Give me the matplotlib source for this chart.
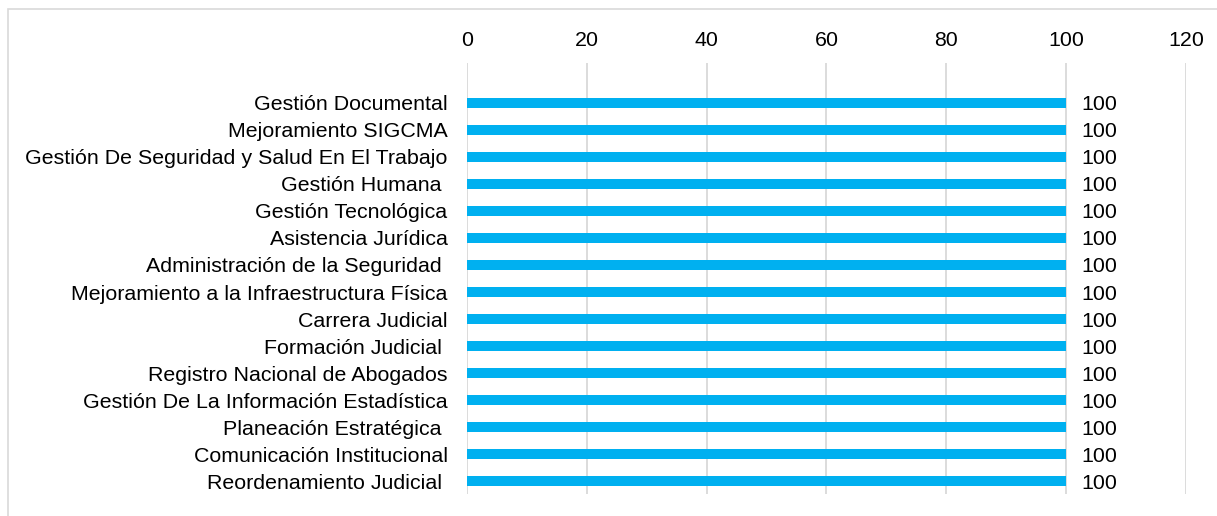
import matplotlib
matplotlib.use("Agg")
import matplotlib.pyplot as plt
from matplotlib.patches import Rectangle

procesos = ["Gestión Documental", "Mejoramiento SIGCMA",
            "Gestión De Seguridad y Salud En El Trabajo", "Gestión Humana ",
            "Gestión Tecnológica", "Asistencia Jurídica",
            "Administración de la Seguridad ",
            "Mejoramiento a la Infraestructura Física", "Carrera Judicial",
            "Formación Judicial ", "Registro Nacional de Abogados",
            "Gestión De La Información Estadística", "Planeación Estratégica ",
            "Comunicación Institucional", "Reordenamiento Judicial "]
valores = [100] * 15
ticks = [0, 20, 40, 60, 80, 100, 120]

plt.rcParams['font.family'] = ['Liberation Sans', 'DejaVu Sans']
fs = 15.4

W, H = 1217, 516
fig = plt.figure(figsize=(W / 100, H / 100), dpi=100)
ax = fig.add_axes([467 / W, 1 - 494 / H, (1186 - 467) / W, (494 - 63) / H])

pos = list(range(len(procesos)))
ax.barh(pos, valores, height=0.4, color="#00B0F0", zorder=3)
for p, v in zip(pos, valores):
    ax.text(v + 2.6, p, str(v), va="center_baseline", ha="left", fontsize=fs,
            color="#000000")

ax.set_ylim(14.48, -1.48)
ax.set_xlim(0, 120)
ax.set_xticks(ticks)
ax.xaxis.tick_top()
ax.tick_params(axis="x", length=0, pad=9.5, labelsize=fs)
ax.set_yticks(pos)
ax.set_yticklabels(procesos, va="center_baseline")
ax.tick_params(axis="y", length=0, pad=14, labelsize=fs)
ax.grid(axis="x", color="#d9d9d9", linewidth=1.3, zorder=0)
for s in ax.spines.values():
    s.set_visible(False)

fig.patches.append(Rectangle((8 / W, -0.1), 1.2, 1 - 9 / H + 0.1,
                             transform=fig.transFigure, fill=False,
                             edgecolor="#d9d9d9", linewidth=1.2))

fig.savefig("out.png", dpi=100)
